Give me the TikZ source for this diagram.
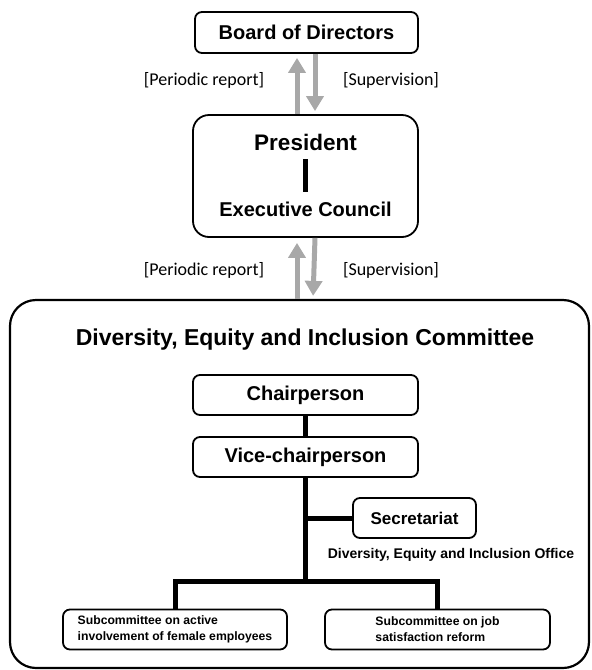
\documentclass[tikz,border=0pt]{standalone}
\usepackage{fontspec}
\setmainfont{Liberation Sans}
\newfontfamily\carl{Carlito}
\usetikzlibrary{arrows.meta}
\definecolor{arrgray}{HTML}{A8A8A8}
\tikzset{
  box/.style={draw=black, line width=1.8pt, rounded corners=7pt, fill=white, inner sep=0pt, align=center, font=\bfseries\fontsize{20}{24}\selectfont},
  link/.style={draw=black, line width=5pt},
  garrow/.style={draw=arrgray, line width=5pt, -{Triangle[width=17pt,length=15pt]}},
  lbl/.style={font=\carl\fontsize{18}{22}\selectfont, inner sep=0pt},
  subbox/.style={box, minimum width=224pt, minimum height=40pt, font=\bfseries\fontsize{12.2}{16}\selectfont, align=left},
}
\begin{document}
\begin{tikzpicture}[x=1pt,y=-1pt]
\useasboundingbox (0,0) rectangle (592,670);
% top level
\node[box, minimum width=223pt, minimum height=41pt] (board) at (306.5,32.5) {Board of Directors};
\node[box, rounded corners=16pt, minimum width=225pt, minimum height=122pt] (pres) at (305.5,176) {};
\node[font=\bfseries\fontsize{22.5}{26}\selectfont, inner sep=0pt] (prestext) at (305.5,142) {President};
\node[font=\bfseries\fontsize{20}{24}\selectfont, inner sep=0pt] (exectext) at (305.5,209) {Executive Council};
\coordinate (barTop) at (305,159);
\coordinate (barBot) at (305,192);
\draw[link] (barTop) -- (barBot);
% arrows board <-> president
\draw[garrow, shorten >=4pt] ([xshift=-8.5pt]pres.north) -- ([xshift=-9.5pt]board.south);
\draw[garrow, shorten >=3pt] ([xshift=8.5pt]board.south) -- ([xshift=9.5pt]pres.north);
\node[lbl] (pr1) at (204,80) {[Periodic report]};
\node[lbl] (sv1) at (391,80) {[Supervision]};
% committee
\node[box, line width=2.2pt, rounded corners=26pt, minimum width=579pt, minimum height=368pt] (comm) at (299.5,484) {};
\draw[garrow, shorten >=5pt] ([xshift=-2.5pt]comm.north) -- ([xshift=-8.5pt]pres.south);
\draw[garrow, shorten >=3pt] ([xshift=9.5pt]pres.south) -- ([xshift=13.5pt]comm.north);
\node[lbl] (pr2) at (204,270) {[Periodic report]};
\node[lbl] (sv2) at (391,270) {[Supervision]};
\node[font=\bfseries\fontsize{23}{27}\selectfont, inner sep=0pt] (title) at (305,340) {Diversity, Equity and Inclusion Committee};
% inner boxes
\node[box, minimum width=225pt, minimum height=40pt] (chair) at (305.5,395) {Chairperson};
\node[box, minimum width=225pt, minimum height=40pt] (vice) at (305.5,457) {Vice-chairperson};
\node[box, minimum width=123pt, minimum height=40pt, font=\bfseries\fontsize{17}{20}\selectfont] (sec) at (414.5,518) {Secretariat};
\node[font=\bfseries\fontsize{14}{17}\selectfont, inner sep=0pt] (office) at (451,555) {Diversity, Equity and Inclusion Office};
\node[subbox] (sub1) at (175,629.5) {Subcommittee on active\\involvement of female employees};
\node[subbox, minimum width=225pt] (sub2) at (437.5,629.5) {Subcommittee on job\\satisfaction reform};
\coordinate (bus) at (0,581);
% connectors
\draw[link] (chair.south) -- (vice.north);
\draw[link] (vice.south) -- (vice.south |- bus);
\draw[link] (sec.west) -- (sec.west -| vice.south);
\draw[link] (sub1.north) -- (sub1.north |- bus) -| (sub2.north);
\end{tikzpicture}
\end{document}
